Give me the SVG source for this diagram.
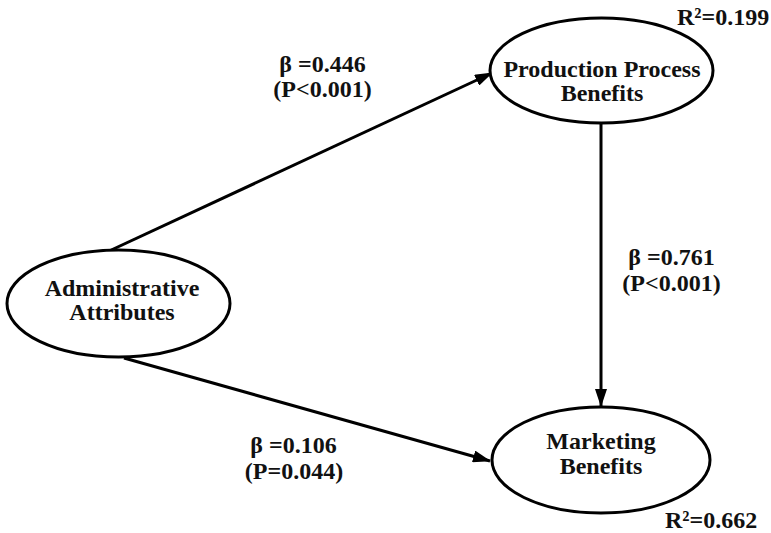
<svg xmlns="http://www.w3.org/2000/svg" width="771" height="533" viewBox="0 0 771 533">
  <style>
    .node ellipse { fill: #ffffff; stroke: #000000; stroke-width: 3; }
    .lbl { font-family: "Liberation Serif", "Times New Roman", serif; font-weight: bold; font-size: 24px; fill: #111111; text-anchor: middle; }
    .r2 { text-anchor: start; }
    .edge { stroke: #000000; stroke-width: 3; fill: none; marker-end: url(#head); }
  </style>
  <defs>
    <marker id="head" viewBox="0 0 18 12" refX="17" refY="6" markerWidth="18" markerHeight="12" markerUnits="userSpaceOnUse" orient="auto">
      <path d="M0,0 L18,6 L0,12 Z" fill="#000000"/>
    </marker>
  </defs>
  <rect width="771" height="533" fill="#ffffff"/>

  <!-- paths between the constructs -->
  <g id="connectors">
    <line class="edge" x1="107" y1="252" x2="492" y2="73"/>
    <line class="edge" x1="124" y1="358" x2="490" y2="461"/>
    <line class="edge" x1="601" y1="123" x2="601" y2="406"/>
  </g>

  <g id="administrative-attributes" class="node">
    <ellipse cx="118.5" cy="303.5" rx="111.5" ry="53.5"/>
    <text class="lbl" x="122" y="296">Administrative</text>
    <text class="lbl" x="122" y="320">Attributes</text>
  </g>

  <g id="production-process-benefits" class="node">
    <ellipse cx="601.5" cy="70.5" rx="111.5" ry="52.5"/>
    <text class="lbl" x="602" y="77">Production Process</text>
    <text class="lbl" x="602" y="101">Benefits</text>
    <text class="lbl r2" x="677" y="25">R²=0.199</text>
  </g>

  <g id="marketing-benefits" class="node">
    <ellipse cx="601" cy="460" rx="109" ry="53"/>
    <text class="lbl" x="601" y="449">Marketing</text>
    <text class="lbl" x="601" y="474">Benefits</text>
    <text class="lbl r2" x="665" y="528">R²=0.662</text>
  </g>

  <!-- path coefficients -->
  <g id="path-labels">
    <text class="lbl" x="322.5" y="72">β =0.446</text>
    <text class="lbl" x="322.5" y="97">(P&lt;0.001)</text>
    <text class="lbl" x="293.5" y="453">β =0.106</text>
    <text class="lbl" x="294" y="479">(P=0.044)</text>
    <text class="lbl" x="671.5" y="265">β =0.761</text>
    <text class="lbl" x="671.5" y="291">(P&lt;0.001)</text>
  </g>
</svg>
